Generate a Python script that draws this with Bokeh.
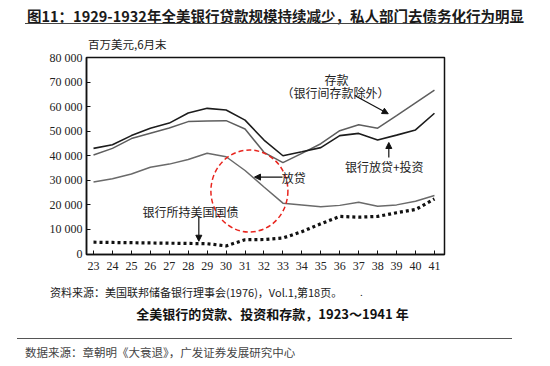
from bokeh.plotting import figure
from bokeh.models import (Range1d, FixedTicker, Label, Arrow, NormalHead, ColumnDataSource, Div)
from bokeh.layouts import column
from bokeh.embed import file_html
from bokeh.resources import INLINE

# ---------------- data ----------------
years = [23, 24, 25, 26, 27, 28, 29, 30, 31, 32, 33, 34, 35, 36, 37, 38, 39, 40, 41]
loans_investments = [43000, 44500, 48200, 51200, 53300, 57400, 59300, 58600, 54500, 46400,
                     40000, 41600, 43300, 48200, 49100, 46400, 48400, 50500, 57300]
deposits = [40300, 43000, 47000, 49200, 51300, 53900, 54100, 54300, 50900, 41400,
            37200, 41000, 44900, 50200, 52600, 51200, 56300, 61500, 66700]
loans = [29300, 30600, 32600, 35300, 36600, 38500, 41000, 39600, 34000, 27300,
         20700, 20000, 19200, 19800, 21100, 19400, 20000, 21500, 23800]
govt_securities = [4800, 4700, 4600, 4500, 4400, 4300, 4200, 3300, 5800, 5900,
                   6500, 9100, 12300, 15300, 15000, 15300, 16800, 18100, 22400]

y_ticks = [0, 10000, 20000, 30000, 40000, 50000, 60000, 70000, 80000]
y_tick_labels = ["0", "10 000", "20 000", "30 000", "40 000", "50 000", "60 000", "70 000", "80 000"]
x_tick_labels = [str(y) for y in years]

title_text = "图11：1929-1932年全美银行贷款规模持续减少，私人部门去债务化行为明显"
unit_text = "百万美元,6月末"
note_text = "资料来源：美国联邦储备银行理事会(1976)，Vol.1,第18页。"
caption_text = "全美银行的贷款、投资和存款，1923～1941 年"
source_text = "数据来源：章朝明《大衰退》，广发证券发展研究中心"

CJK = "Noto Sans CJK SC"
SERIF = "Liberation Serif"
W = 550


def txt(left, top, s, size, lh, color="#222222", bold=False, extra=""):
    fw = "bold" if bold else "normal"
    return (f'<div style="position:absolute;left:{left}px;top:{top}px;font-size:{size}px;'
            f'line-height:{lh}px;color:{color};font-weight:{fw};white-space:nowrap;{extra}">{s}</div>')


def hr(left, top, width, color):
    return (f'<div style="position:absolute;left:{left}px;top:{top}px;width:{width}px;height:0;'
            f'border-top:1.2px solid {color};"></div>')


def box(h, inner):
    return (f'<div style="position:relative;width:{W}px;height:{h}px;margin:0;padding:0;'
            f'font-family:\'{CJK}\',sans-serif;">{inner}</div>')


# ---------------- header ----------------
HH = 50
head_html = box(HH,
                txt(27, 6, title_text, 14.5, 19, "#1a1a1a", bold=True)
                + hr(25, 23, 478, "#444444")
                + txt(88, 36, unit_text, 11.5, 16))
head = Div(text=head_html, width=W, height=HH, margin=0)

# ---------------- main chart ----------------
p = figure(width=W, height=230, x_range=Range1d(22.63, 41.53), y_range=Range1d(-200, 80000),
           output_backend="svg", toolbar_location=None,
           min_border_left=86, min_border_right=106, min_border_top=7, min_border_bottom=26)
p.grid.visible = False
p.outline_line_color = "#111111"
p.outline_line_width = 1.5
p.background_fill_color = "white"

src = ColumnDataSource(dict(x=years, li=loans_investments, dep=deposits, ln=loans, gov=govt_securities))
p.line("x", "ln", source=src, line_color="#6a6a6a", line_width=1.5)
p.line("x", "dep", source=src, line_color="#5e5e5e", line_width=1.5)
p.line("x", "li", source=src, line_color="#1c1c1c", line_width=1.6)
p.line("x", "gov", source=src, line_color="#111111", line_width=3.2, line_dash="3 3", line_cap="butt")

p.xaxis.ticker = FixedTicker(ticks=years)
p.xaxis.major_label_overrides = {y: s for y, s in zip(years, x_tick_labels)}
p.yaxis.ticker = FixedTicker(ticks=y_ticks)
p.yaxis.major_label_overrides = {t: s for t, s in zip(y_ticks, y_tick_labels)}
for ax in (p.xaxis, p.yaxis):
    ax.major_tick_in = 4
    ax.major_tick_out = 0
    ax.minor_tick_line_color = None
    ax.axis_line_color = "#111111"
    ax.axis_line_width = 1.5
    ax.major_tick_line_color = "#111111"
    ax.major_label_text_font = SERIF
    ax.major_label_text_font_size = "12px"
    ax.major_label_text_color = "#222222"
p.xaxis.major_label_standoff = 7
p.yaxis.major_label_standoff = 4

# red dashed circle
p.ellipse(x=[31.23], y=[25650], width=77, height=82, width_units="screen", height_units="screen",
          fill_color=None, line_color="#e8261f", line_width=1.5, line_dash="5 3")


def lab(x, y, t):
    p.add_layout(Label(x=x, y=y, text=t, text_font=CJK, text_font_size="12px",
                       text_color="#222222", text_align="center", text_baseline="middle"))


def arr(x0, y0, x1, y1):
    p.add_layout(Arrow(x_start=x0, y_start=y0, x_end=x1, y_end=y1, line_width=1.2, line_color="#111111",
                       end=NormalHead(size=6, fill_color="#111111", line_color="#111111")))


lab(35.83, 71000, "存款")
lab(35.77, 65800, "（银行间存款除外）")
arr(36.79, 64500, 38.56, 57100)
lab(38.35, 35600, "银行放贷+投资")
arr(38.59, 39300, 38.59, 45400)
lab(33.57, 31300, "放贷")
arr(32.98, 31300, 31.5, 31300)
lab(28.12, 17300, "银行所持美国国债")
arr(28.56, 15300, 28.56, 5200)

# ---------------- footer ----------------
FH = 86
foot_html = box(FH,
                txt(50, 4.5, note_text, 11, 15)
                + txt(360, 4.5, ".", 11, 15, extra=f"font-family:'{SERIF}';")
                + txt(0, 24.5, caption_text, 13, 17, "#111111", bold=True,
                      extra="width:545px;text-align:center;")
                + hr(17, 58, 495, "#555555")
                + txt(25, 64, source_text, 11.5, 16, "#444444"))
foot = Div(text=foot_html, width=W, height=FH, margin=0)

layout = column(head, p, foot, spacing=0)
open("out.html", "w").write(file_html(layout, INLINE))
